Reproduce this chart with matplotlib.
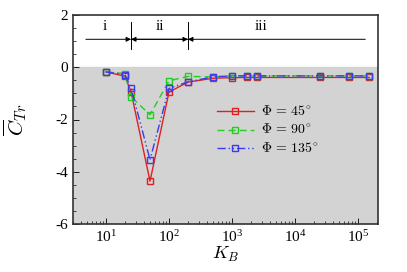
import matplotlib
matplotlib.use('Agg')
import matplotlib.pyplot as plt
from matplotlib.ticker import LogLocator, MultipleLocator, NullFormatter

plt.rcParams['font.family'] = 'serif'
plt.rcParams['font.serif'] = ['Liberation Serif', 'DejaVu Serif']
plt.rcParams['mathtext.fontset'] = 'cm'
plt.rcParams['axes.unicode_minus'] = False

# data
kb = [10, 20, 25, 50, 100, 200, 500, 1000, 1700, 2500, 25000, 72000, 150000]
ct_45 = [-0.18, -0.34, -0.94, -4.36, -0.95, -0.57, -0.42, -0.40, -0.39, -0.39, -0.39, -0.39, -0.39]
ct_90 = [-0.18, -0.24, -1.13, -1.82, -0.52, -0.35, -0.37, -0.33, -0.33, -0.33, -0.33, -0.33, -0.33]
ct_135 = [-0.18, -0.28, -0.79, -3.54, -0.81, -0.56, -0.37, -0.33, -0.33, -0.33, -0.33, -0.33, -0.33]
labels = [r'$\Phi\,=\,45^{\circ}$', r'$\Phi\,=\,90^{\circ}$', r'$\Phi\,=\,135^{\circ}$']
regions = ['i', 'ii', 'iii']
region_x = [9.5, 72, 2900]
bounds = [4.8, 25, 200, 130000]

fig = plt.figure(figsize=(4.07, 2.72), dpi=100)
ax = fig.add_axes([73 / 407, 48 / 272, 305 / 407, 209 / 272])

ax.axhspan(-6, 0, color='#d3d3d3', zorder=0)

ax.plot(kb, ct_45, color='#e02020', lw=1.0, marker='s', ms=5, mfc='none', mew=1.0, label=labels[0])
ax.plot(kb, ct_90, color='#22cc22', lw=1.0, ls=(0, (5, 3)), marker='s', ms=5, mfc='none', mew=1.0, label=labels[1])
ax.plot(kb, ct_135, color='#3a3af0', lw=1.0, ls=(0, (6, 2, 1, 2, 1, 2)), marker='s', ms=5, mfc='none', mew=1.0, label=labels[2])

# region arrows
arrow = dict(arrowstyle='-|>', color='black', lw=0.7, mutation_scale=7, shrinkA=0, shrinkB=0)
ax.annotate('', xy=(bounds[1], 1.07), xytext=(bounds[0], 1.07), arrowprops=arrow)
ax.annotate('', xy=(bounds[1], 1.07), xytext=(bounds[2], 1.07), arrowprops=arrow)
ax.annotate('', xy=(bounds[2], 1.07), xytext=(bounds[1], 1.07), arrowprops=arrow)
ax.annotate('', xy=(bounds[2], 1.07), xytext=(bounds[3], 1.07), arrowprops=arrow)
for b in bounds[1:3]:
    ax.plot([b, b], [0.69, 1.74], color='black', lw=0.7)
for r, x in zip(regions, region_x):
    ax.text(x, 1.55, r, ha='center', va='center', fontsize=11)

ax.set_xscale('log')
ax.set_xlim(3.0, 2.07e5)
ax.set_ylim(-6, 2)
ax.yaxis.set_major_locator(MultipleLocator(2))
ax.yaxis.set_minor_locator(MultipleLocator(0.5))
ax.xaxis.set_major_locator(LogLocator(base=10, numticks=10))
ax.xaxis.set_minor_locator(LogLocator(base=10, subs=range(2, 10), numticks=20))
ax.xaxis.set_minor_formatter(NullFormatter())
ax.tick_params(which='both', direction='in', top=False, right=False, labelsize=11)
ax.tick_params(which='major', length=4, width=0.6)
ax.tick_params(which='minor', length=2, width=0.5)
for s in ax.spines.values():
    s.set_linewidth(1.2)
    s.set_color('#333333')

ax.set_xlabel(r'$K_B$', fontsize=13, labelpad=0)
ax.set_ylabel(r'$\overline{C}_{Tr}$', fontsize=15, labelpad=19)

ax.legend(loc='upper left', bbox_to_anchor=(0.43, 0.63), frameon=False, fontsize=10,
          handlelength=2.7, handletextpad=0.5, labelspacing=0.3)

fig.savefig('out.png', dpi=100)
